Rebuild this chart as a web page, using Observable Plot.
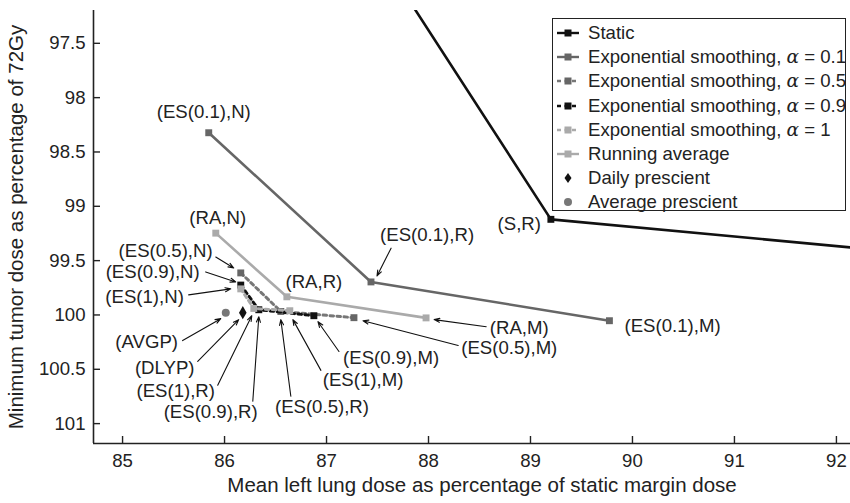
<!DOCTYPE html>
<html>
<head>
<meta charset="utf-8">
<script src="https://cdn.jsdelivr.net/npm/d3@7"></script>
<script src="https://cdn.jsdelivr.net/npm/@observablehq/plot@0.6"></script>
<style>
  html, body { margin: 0; padding: 0; background: #fff; }
  #wrap { position: relative; width: 850px; height: 503px; font-family: "Liberation Sans", Arial, sans-serif; color: #222; }
  #legend { position: absolute; left: 552px; top: 18px; width: 294px; height: 193px; border: 1.5px solid #222; background: #fff; padding-top: 2px; box-sizing: border-box; }
  .row { height: 24.2px; line-height: 24.2px; font-size: 18.6px; white-space: nowrap; display: flex; align-items: center; }
  .row svg { margin-left: 4px; margin-right: 9px; flex: none; }
  .alpha { font-family: "DejaVu Serif", "Liberation Serif", serif; font-style: italic; }
</style>
</head>
<body>
<div id="wrap"><div id="legend"></div></div>
<script>
// ---------- data ----------
const xTicks = [85, 86, 87, 88, 89, 90, 91, 92];
const yTicks = [97.5, 98, 98.5, 99, 99.5, 100, 100.5, 101];
const conditions = ["N", "R", "M"];

// Static (N and M lie outside the visible window)
const staticX = [87.6, 89.20, 92.5];
const staticY = [96.80, 99.12, 99.41];
// Exponential smoothing alpha = 0.1
const es01X = [85.845, 87.436, 89.774];
const es01Y = [98.323, 99.696, 100.053];
// alpha = 0.5
const es05X = [86.159, 86.552, 87.269];
const es05Y = [99.613, 99.968, 100.025];
// alpha = 0.9
const es09X = [86.159, 86.336, 86.876];
const es09Y = [99.725, 99.952, 100.007];
// alpha = 1
const es1X = [86.159, 86.287, 86.640];
const es1Y = [99.760, 99.940, 99.961];
// Running average
const raX = [85.914, 86.611, 87.976];
const raY = [99.247, 99.833, 100.027];
// Prescient
const dlypX = [86.179], dlypY = [99.979];
const avgpX = [86.012], avgpY = [99.979];

const seriesNames = ["Static", "ES0.1", "ES0.5", "ES0.9", "ES1", "RA"];
const seriesX = [staticX, es01X, es05X, es09X, es1X, raX];
const seriesY = [staticY, es01Y, es05Y, es09Y, es1Y, raY];

const legendLabels = [
  "Static",
  "Exponential smoothing, α = 0.1",
  "Exponential smoothing, α = 0.5",
  "Exponential smoothing, α = 0.9",
  "Exponential smoothing, α = 1",
  "Running average",
  "Daily prescient",
  "Average prescient"
];

// point labels (text and anchor position in data units)
const labelText = ["(ES(0.1),N)", "(RA,N)", "(ES(0.5),N)", "(ES(0.9),N)", "(ES(1),N)", "(RA,R)",
  "(AVGP)", "(DLYP)", "(ES(1),R)", "(ES(0.9),R)", "(ES(0.5),R)", "(ES(1),M)", "(ES(0.9),M)",
  "(ES(0.5),M)", "(RA,M)", "(ES(0.1),M)", "(ES(0.1),R)", "(S,R)"];
const labelX = [85.796, 85.933, 85.422, 85.295, 85.216, 86.876, 85.236, 85.413, 85.521, 85.864,
  86.955, 87.358, 87.633, 88.792, 88.890, 90.393, 87.986, 88.890];
const labelY = [98.130, 99.110, 99.412, 99.604, 99.833, 99.696, 100.245, 100.492, 100.702, 100.894,
  100.849, 100.602, 100.400, 100.309, 100.117, 100.098, 99.266, 99.165];

// arrows from label to point
const arrowX1 = [85.914, 85.815, 85.648, 85.589, 85.737, 85.933, 86.277, 86.650, 86.945, 87.122, 88.291, 88.566, 87.633];
const arrowY1 = [99.467, 99.604, 99.815, 100.236, 100.428, 100.647, 100.794, 100.748, 100.510, 100.336, 100.281, 100.108, 99.385];
const arrowX2 = [86.090, 86.110, 86.061, 85.963, 86.139, 86.267, 86.336, 86.552, 86.670, 86.916, 87.358, 88.055, 87.495];
const arrowY2 = [99.568, 99.696, 99.760, 100.034, 100.043, 100.007, 100.016, 100.043, 100.043, 100.062, 100.053, 100.043, 99.641];

// ---------- styles ----------
const style = {
  "Static": {stroke: "#111", fill: "#111", dash: null, w: 2.6},
  "ES0.1": {stroke: "#666", fill: "#666", dash: null, w: 2.6},
  "ES0.5": {stroke: "#777", fill: "#666", dash: "3.5,3.5", w: 3},
  "ES0.9": {stroke: "#111", fill: "#111", dash: "3.5,3.5", w: 3},
  "ES1": {stroke: "#aaa", fill: "#aaa", dash: "3.5,3.5", w: 3},
  "RA": {stroke: "#aaa", fill: "#aaa", dash: null, w: 2.6}
};

const xDomain = [84.715, 92.138];
const yDomain = [97.198, 101.183];

const rows = [];
seriesNames.forEach((s, i) => {
  conditions.forEach((c, j) => rows.push({series: s, cond: c, x: seriesX[i][j], y: seriesY[i][j]}));
});
const labels = labelText.map((t, i) => ({text: t, x: labelX[i], y: labelY[i]}));
const arrows = arrowX1.map((d, i) => ({x1: d, y1: arrowY1[i], x2: arrowX2[i], y2: arrowY2[i]}));

const marks = [];
seriesNames.forEach(s => {
  const st = style[s];
  const data = rows.filter(r => r.series === s);
  marks.push(Plot.line(data, {x: "x", y: "y", stroke: st.stroke, strokeWidth: st.w,
    strokeDasharray: st.dash || undefined, clip: true}));
  marks.push(Plot.dot(data, {x: "x", y: "y", symbol: "square", r: 3.9, fill: st.fill, stroke: "none", clip: true}));
});
marks.push(Plot.dot(dlypX.map((x, i) => ({x, y: dlypY[i]})), {x: "x", y: "y", symbol: "diamond", r: 4, fill: "#111"}));
marks.push(Plot.dot(avgpX.map((x, i) => ({x, y: avgpY[i]})), {x: "x", y: "y", symbol: "circle", r: 4, fill: "#777"}));

marks.push(Plot.arrow(arrows, {x1: "x1", y1: "y1", x2: "x2", y2: "y2", stroke: "#111", strokeWidth: 1.1, headLength: 8, headAngle: 40, inset: 0}));
marks.push(Plot.text(labels, {x: "x", y: "y", text: "text", fontSize: 18.6, fill: "#222"}));

// axes
marks.push(Plot.ruleX([xDomain[0]], {stroke: "#222", strokeWidth: 1.6}));
marks.push(Plot.ruleY([yDomain[1]], {stroke: "#222", strokeWidth: 1.6}));
marks.push(Plot.axisX({ticks: xTicks, tickSize: 7, dy: -7, tickFormat: () => "", label: null, stroke: "#222", strokeWidth: 1.4}));
marks.push(Plot.axisY({ticks: yTicks, tickSize: 7, dx: 7, tickFormat: () => "", label: null, stroke: "#222", strokeWidth: 1.4}));
marks.push(Plot.axisX({ticks: xTicks, tickSize: 0, tickPadding: 10, tickFormat: d => String(d), label: null, fontSize: 18.6, fill: "#222"}));
marks.push(Plot.axisY({ticks: yTicks, tickSize: 0, tickPadding: 8, tickFormat: d => String(d), label: null, fontSize: 18.6, fill: "#222"}));
marks.push(Plot.text(["Mean left lung dose as percentage of static margin dose"], {frameAnchor: "bottom", dy: 48, dx: 10, fontSize: 20.5, fill: "#222", textAnchor: "middle"}));
marks.push(Plot.text(["Minimum tumor dose as percentage of 72Gy"], {frameAnchor: "left", rotate: -90, dx: -77, fontSize: 20.5, fill: "#222", textAnchor: "middle", lineAnchor: "middle"}));

const chart = Plot.plot({
  width: 850,
  height: 503,
  marginLeft: 93,
  marginRight: 0,
  marginTop: 10,
  marginBottom: 60,
  x: {domain: xDomain},
  y: {domain: yDomain, reverse: true},
  style: {fontFamily: "'Liberation Sans', Arial, sans-serif", background: "white", color: "#222", overflow: "visible"},
  marks
});
document.getElementById("wrap").prepend(chart);

// legend
const legendKey = ["Static", "ES0.1", "ES0.5", "ES0.9", "ES1", "RA", "DLYP", "AVGP"];
const leg = document.getElementById("legend");
legendLabels.forEach((lab, i) => {
  const k = legendKey[i];
  let sw = "";
  if (style[k]) {
    const st = style[k];
    sw = `<line x1="0" y1="7" x2="22" y2="7" stroke="${st.stroke}" stroke-width="${st.dash ? 2.6 : 2.4}" ${st.dash ? 'stroke-dasharray="4,3.5"' : ''}/>` +
         `<rect x="7.5" y="3.5" width="7" height="7" fill="${st.fill}"/>`;
  } else if (k === "DLYP") {
    sw = `<path d="M11,2 L14.5,7 L11,12 L7.5,7 Z" fill="#111"/>`;
  } else {
    sw = `<circle cx="11" cy="7" r="4" fill="#777"/>`;
  }
  const html = lab.replace("α", '<span class="alpha">α</span>');
  const div = document.createElement("div");
  div.className = "row";
  div.innerHTML = `<svg width="22" height="14">${sw}</svg><span>${html}</span>`;
  leg.appendChild(div);
});
</script>
</body>
</html>
